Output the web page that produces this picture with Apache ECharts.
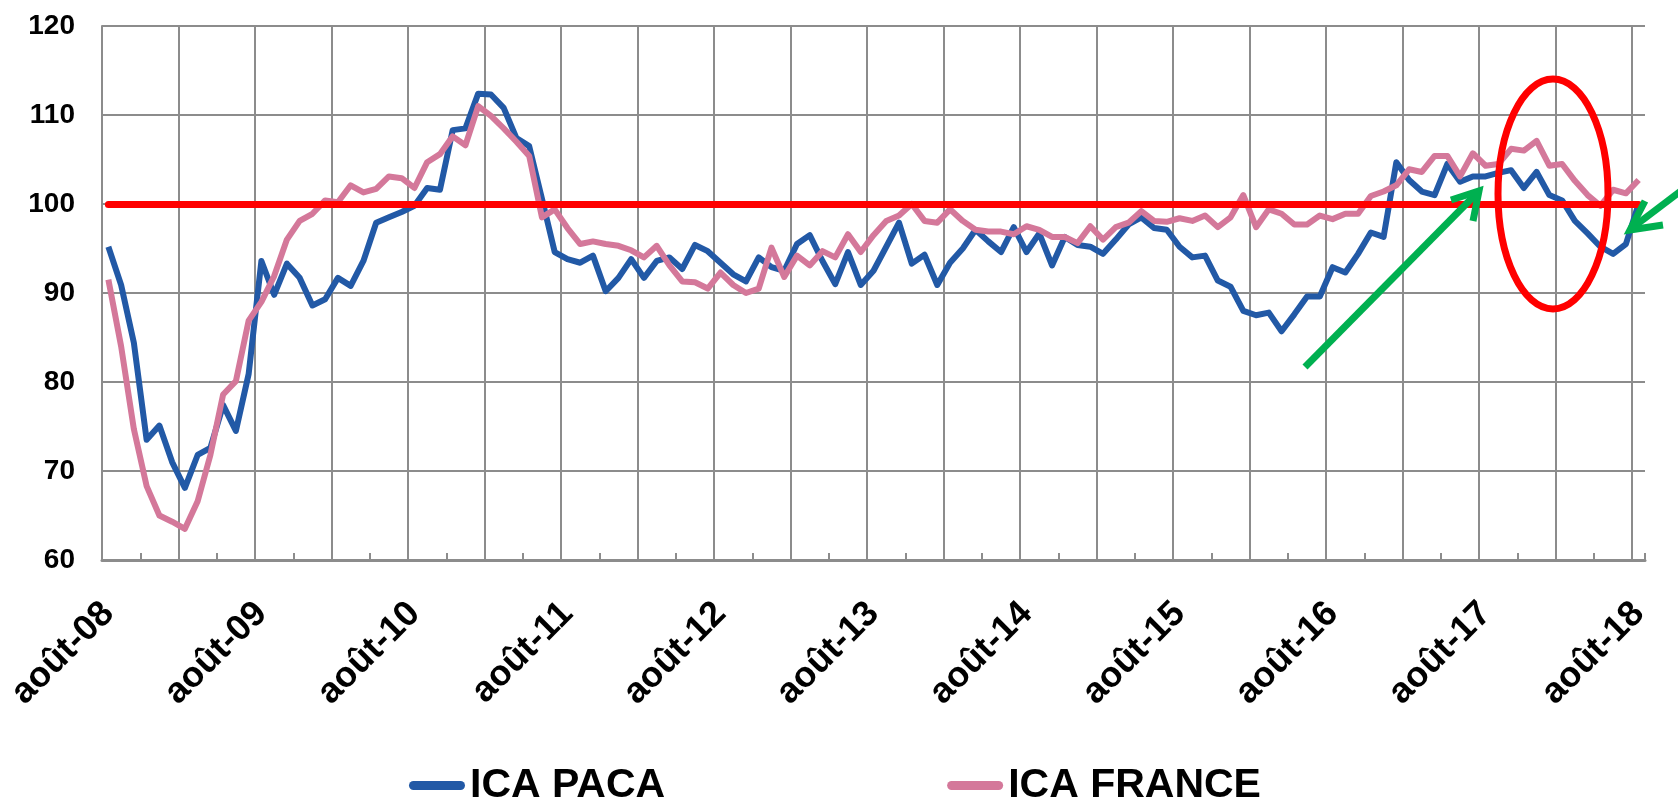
<!DOCTYPE html>
<html lang="fr">
<head>
<meta charset="utf-8">
<title>ICA PACA / ICA FRANCE</title>
<script src="https://cdn.jsdelivr.net/npm/echarts@6/dist/echarts.min.js"></script>
<style>
  html, body { margin: 0; padding: 0; background: #ffffff; }
  #chart { width: 1678px; height: 799px; }
</style>
</head>
<body>
<div id="chart"></div>
<script>
// mois d'août 2008 à août 2018 (121 points mensuels)
var moisCourts = ['janv', 'févr', 'mars', 'avr', 'mai', 'juin', 'juil', 'août', 'sept', 'oct', 'nov', 'déc'];
var premierMois = 7;      // août
var premiereAnnee = 2008;
var nbMois = 121;

var mois = [];
for (var k = 0; k < nbMois; k++) {
  var m = (premierMois + k) % 12;
  var a = premiereAnnee + Math.floor((premierMois + k) / 12);
  mois.push(moisCourts[m] + '-' + String(a).slice(2));
}

var icaPaca = [
  95.2, 90.9, 84.4, 73.5, 75.1, 71.0, 68.1, 71.8, 72.6, 77.4, 74.5, 80.9,
  93.6, 89.8, 93.3, 91.7, 88.6, 89.3, 91.7, 90.8, 93.6, 97.9, 98.5, 99.1,
  99.8, 101.8, 101.6, 108.3, 108.5, 112.4, 112.3, 110.8, 107.4, 106.5, 100.6, 94.6,
  93.8, 93.4, 94.2, 90.2, 91.7, 93.8, 91.7, 93.6, 94.0, 92.7, 95.4, 94.7,
  93.4, 92.1, 91.3, 94.0, 92.9, 92.5, 95.5, 96.5, 93.6, 91.0, 94.6, 90.9,
  92.5, 95.2, 97.9, 93.3, 94.3, 90.9, 93.4, 95.0, 97.1, 95.8, 94.6, 97.4,
  94.6, 96.7, 93.1, 96.3, 95.4, 95.2, 94.4, 96.0, 97.7, 98.5, 97.3, 97.1,
  95.2, 94.0, 94.2, 91.4, 90.7, 88.0, 87.5, 87.8, 85.7, 87.6, 89.6, 89.6,
  92.9, 92.3, 94.4, 96.8, 96.3, 104.7, 102.7, 101.4, 101.0, 104.5, 102.5, 103.1,
  103.1, 103.5, 103.8, 101.8, 103.6, 101.0, 100.4, 98.1, 96.7, 95.2, 94.4, 95.5,
  100.0
];

var icaFrance = [
  91.5, 84.0, 74.7, 68.3, 65.0, 64.3, 63.5, 66.6, 71.8, 78.6, 80.1, 86.9,
  89.0, 91.9, 96.0, 98.1, 98.9, 100.4, 100.2, 102.1, 101.3, 101.7, 103.1, 102.9,
  101.8, 104.7, 105.6, 107.6, 106.6, 111.0, 109.9, 108.5, 107.0, 105.4, 98.5, 99.4,
  97.3, 95.5, 95.8, 95.5, 95.3, 94.8, 94.0, 95.3, 93.1, 91.3, 91.2, 90.5,
  92.3, 90.9, 90.0, 90.5, 95.1, 91.8, 94.2, 93.1, 94.7, 94.0, 96.6, 94.6,
  96.5, 98.1, 98.7, 100.0, 98.1, 97.9, 99.4, 98.1, 97.1, 96.9, 96.9, 96.6,
  97.5, 97.1, 96.3, 96.3, 95.6, 97.5, 96.0, 97.4, 97.9, 99.2, 98.1, 98.0,
  98.4, 98.1, 98.7, 97.4, 98.5, 101.0, 97.4, 99.4, 98.9, 97.7, 97.7, 98.7,
  98.3, 98.9, 98.9, 100.9, 101.4, 102.1, 103.9, 103.6, 105.4, 105.4, 103.1, 105.7,
  104.3, 104.5, 106.2, 106.0, 107.1, 104.3, 104.5, 102.6, 101.0, 99.8, 101.6, 101.2,
  102.7
];

var base = 100;
var yMin = 60, yMax = 120, yPas = 10;

var bleu = '#2259A6';
var rose = '#D4789A';
var rouge = '#FF0000';
var vert = '#00B050';
var gris = '#8C8C8C';
var police = '"Liberation Sans", Arial, sans-serif';

var chart = echarts.init(document.getElementById('chart'), null, { renderer: 'canvas' });
chart.setOption({
  animation: false,
  backgroundColor: '#ffffff',
  textStyle: { fontFamily: police },
  grid: { left: 102, right: 33, top: 26, bottom: 239, outerBoundsMode: 'none' },
  legend: {
    data: ['ICA PACA', 'ICA FRANCE'],
    left: 404,
    top: 760,
    itemGap: 282,
    itemWidth: 56,
    itemHeight: 9,
    icon: 'path://M4.5,0 H51.5 A4.5,4.5 0 0 1 51.5,9 H4.5 A4.5,4.5 0 0 1 4.5,0 Z',
    textStyle: { fontSize: 41, fontWeight: 'bold', color: '#000', fontFamily: police }
  },
  xAxis: {
    type: 'category',
    data: mois,
    boundaryGap: true,
    axisLine: { lineStyle: { color: gris, width: 3 } },
    axisTick: { show: true, inside: true, length: 7, interval: 2, lineStyle: { color: gris, width: 2 } },
    splitLine: { show: true, interval: 5, showMaxLine: false, lineStyle: { color: gris, width: 2 } },
    axisLabel: {
      interval: 11,
      rotate: 45,
      margin: 48,
      fontSize: 36,
      fontWeight: 'bold',
      color: '#000',
      fontFamily: police
    }
  },
  yAxis: {
    type: 'value',
    min: yMin,
    max: yMax,
    interval: yPas,
    axisLine: { show: true, lineStyle: { color: gris, width: 2 } },
    axisTick: { show: false },
    splitLine: { lineStyle: { color: gris, width: 2 } },
    axisLabel: { fontSize: 28, fontWeight: 'bold', color: '#000', margin: 27, fontFamily: police }
  },
  series: [
    {
      name: 'ICA PACA',
      type: 'line',
      data: icaPaca,
      symbol: 'none',
      z: 2,
      itemStyle: { color: bleu },
      lineStyle: { color: bleu, width: 6, join: 'round' }
    },
    {
      name: 'base 100',
      type: 'line',
      data: [],
      z: 3,
      markLine: {
        silent: true,
        symbol: 'none',
        label: { show: false },
        lineStyle: { color: rouge, width: 7, type: 'solid', cap: 'round' },
        data: [[{ xAxis: mois[0], yAxis: base }, { xAxis: mois[mois.length - 1], yAxis: base }]]
      }
    },
    {
      name: 'ICA FRANCE',
      type: 'line',
      data: icaFrance,
      symbol: 'none',
      z: 4,
      itemStyle: { color: rose },
      lineStyle: { color: rose, width: 6, join: 'round' }
    }
  ],
  // annotations dessinées à la main sur le graphique d'origine
  graphic: [
    {
      type: 'ellipse',
      z: 100,
      shape: { cx: 1553, cy: 194, rx: 55, ry: 115 },
      style: { fill: 'none', stroke: rouge, lineWidth: 7 }
    },
    {
      type: 'line',
      z: 100,
      shape: { x1: 1305, y1: 367, x2: 1478, y2: 192 },
      style: { stroke: vert, lineWidth: 7 }
    },
    {
      type: 'polyline',
      z: 100,
      shape: { points: [[1451, 200], [1479, 191], [1473, 221]] },
      style: { stroke: vert, lineWidth: 7, fill: 'none', lineJoin: 'miter' }
    },
    {
      type: 'line',
      z: 100,
      shape: { x1: 1690, y1: 184, x2: 1632, y2: 228 },
      style: { stroke: vert, lineWidth: 7 }
    },
    {
      type: 'polyline',
      z: 100,
      shape: { points: [[1645, 201], [1630, 230], [1663, 225]] },
      style: { stroke: vert, lineWidth: 7, fill: 'none', lineJoin: 'miter' }
    }
  ]
});
window.addEventListener('resize', function() { chart.resize(); });
</script>
</body>
</html>
